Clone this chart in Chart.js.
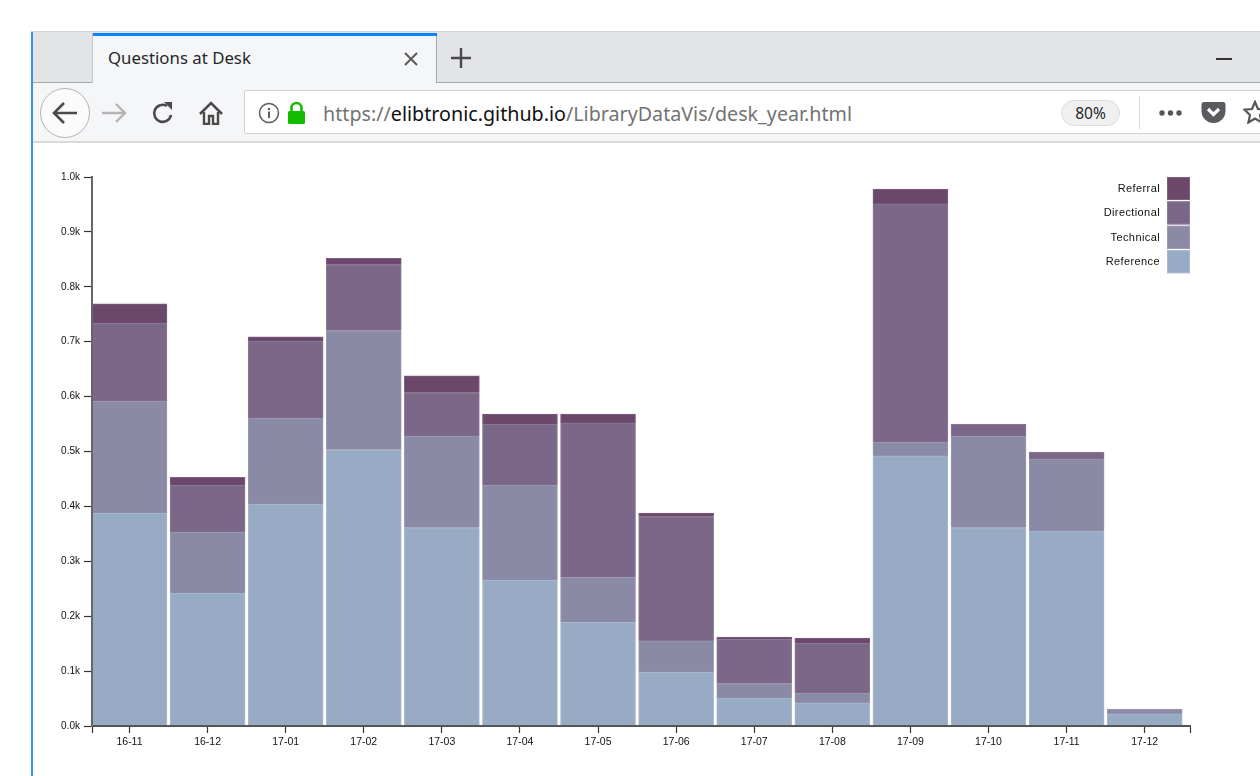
<!DOCTYPE html>
<html>
<head>
<meta charset="utf-8">
<title>Questions at Desk</title>
<script src="https://cdn.jsdelivr.net/npm/chart.js@4"></script>
<style>
html,body{margin:0;padding:0;background:#fff;overflow:hidden}
#page{position:relative;width:1260px;height:776px;overflow:hidden;font-family:"Noto Sans",sans-serif}
#page div,#page svg{position:absolute}
#chart{position:absolute;left:32px;top:143px}
.txt{white-space:nowrap}
</style>
</head>
<body>
<div id="page">
  <div style="left:31px;top:31px;width:1229px;height:1px;background:#d4d4d4"></div>
  <div style="left:31px;top:32px;width:2px;height:744px;background:#3d94e6"></div>
  <div style="left:33px;top:32px;width:1227px;height:51px;background:#e3e4e6"></div>
  <div style="left:33px;top:82px;width:1227px;height:1px;background:#a8a9ab"></div>
  <div style="left:93px;top:33px;width:343px;height:50px;background:#f5f6f7;border-right:1px solid #a8a9ab"></div>
  <div style="left:92px;top:33px;width:1px;height:50px;background:#c4c5c7"></div>
  <div style="left:93px;top:33px;width:344px;height:3px;background:#0a84ff"></div>
  <div class="txt" style="left:108px;top:46px;font-size:16.8px;line-height:24px;color:#26262a">Questions at Desk</div>
  <svg style="left:403px;top:51px" width="16" height="16"><path d="M2 2L14 14M14 2L2 14" stroke="#5a5a5c" stroke-width="2"/></svg>
  <svg style="left:449px;top:46px" width="24" height="24"><path d="M12 2V22M2 12H22" stroke="#4a4a4c" stroke-width="2.4"/></svg>
  <div style="left:1216px;top:58px;width:16px;height:2px;background:#333"></div>

  <div style="left:33px;top:83px;width:1227px;height:58px;background:#f5f6f7"></div>
  <div style="left:33px;top:141px;width:1227px;height:2px;background:#d8d9da"></div>
  <div style="left:244px;top:90px;width:1231px;height:44px;background:#fff;border:1px solid #d0d1d2;border-radius:2px;box-sizing:border-box"></div>
  <div style="left:40px;top:88px;width:50px;height:50px;border-radius:50%;background:#fbfbfb;border:1px solid #b4b4b6;box-sizing:border-box"></div>
  <svg style="left:50px;top:98px" width="30" height="30"><path d="M27 15H4M14 5L4 15L14 25" fill="none" stroke="#4a4a4c" stroke-width="2.6"/></svg>
  <svg style="left:101px;top:101px" width="26" height="24"><path d="M1 12H24M15 3L24 12L15 21" fill="none" stroke="#b4b4b6" stroke-width="2.4"/></svg>
  <svg style="left:151px;top:101px" width="24" height="24"><path d="M20 14A8.5 8.5 0 1 1 16 5" fill="none" stroke="#4a4a4c" stroke-width="2.6"/><path d="M13 1H21V9Z" fill="#4a4a4c"/></svg>
  <svg style="left:199px;top:101px" width="24" height="24"><path d="M1 13L12 2L23 13" fill="none" stroke="#4a4a4c" stroke-width="2.6"/><path d="M5 11V23H10V15H14V23H19V11" fill="none" stroke="#4a4a4c" stroke-width="2.4"/></svg>
  <svg style="left:258px;top:102px" width="22" height="22"><circle cx="11" cy="11" r="9.5" fill="none" stroke="#5c5c5e" stroke-width="1.5"/><path d="M11 9.5V16M11 6V8" stroke="#5c5c5e" stroke-width="2"/></svg>
  <svg style="left:287px;top:101px" width="19" height="23"><path d="M4.5 10V7A5 5 0 0 1 14.5 7V10" fill="none" stroke="#12bc00" stroke-width="2.6"/><rect x="1" y="10" width="17" height="13" rx="1.5" fill="#12bc00"/></svg>
  <div class="txt" style="left:323px;top:100px;font-size:19.7px;line-height:28px;color:#737373">https://<span style="color:#111">elibtronic.github.io</span>/LibraryDataVis/desk_year.html</div>
  <div class="txt" style="left:1061px;top:100px;width:59px;height:26px;border-radius:13px;background:#f0f0f1;border:1px solid #dcdcde;box-sizing:border-box;text-align:center;font-size:15.5px;line-height:25px;color:#26262a">80%</div>
  <div style="left:1139px;top:96px;width:1px;height:33px;background:#dcdcde"></div>
  <svg style="left:1158px;top:107px" width="26" height="12"><circle cx="4" cy="6" r="2.7" fill="#55555a"/><circle cx="12.5" cy="6" r="2.7" fill="#55555a"/><circle cx="21" cy="6" r="2.7" fill="#55555a"/></svg>
  <svg style="left:1201px;top:101px" width="25" height="23"><path d="M3 1H22Q24.5 1 24.5 4V10A12 12 0 0 1 0.5 10V4Q0.5 1 3 1Z" fill="#5b5b5f"/><path d="M7 8L12.5 13.5L18 8" fill="none" stroke="#fff" stroke-width="3.2"/></svg>
  <svg style="left:1243px;top:100px" width="24" height="24"><path d="M12 2L15 9L22.5 9.7L17 15L18.6 22.5L12 18.6L5.4 22.5L7 15L1.5 9.7L9 9Z" fill="none" stroke="#55555a" stroke-width="2.2"/></svg>

  <canvas id="chart" width="1228" height="633"></canvas>
</div>
<script>
var categories = ["16-11","16-12","17-01","17-02","17-03","17-04","17-05","17-06","17-07","17-08","17-09","17-10","17-11","17-12"];
var reference   = [388,242,404,503,361,266,189,98,51,42,492,361,355,22];
var technical   = [204,111,157,217,167,173,82,57,26,18,25,167,131,9];
var directional = [142,86,140,120,79,111,281,226,81,91,434,22,13,0];
var referral    = [35,14,8,12,31,18,16,7,4,9,27,0,0,0];
var yTicks = { min: 0, max: 1000, step: 100 };
// the axis runs a little past the bands on both sides, the right more than the left
var xRange = { min: -0.48, max: 13.58 };

function points(values) {
  return values.map(function(v, i) { return { x: i, y: v }; });
}

function series(label, values, color, edge) {
  return {
    label: label,
    data: points(values),
    backgroundColor: color,
    borderColor: edge,
    borderWidth: 1,
    barThickness: 75,
  };
}

// legend sits inside the plot with the swatch right of the label, newest series on top
var stackLegend = {
  id: "stackLegend",
  afterDraw: function(chart) {
    var ctx = chart.ctx;
    var area = chart.chartArea;
    var sets = chart.data.datasets;
    ctx.save();
    ctx.font = "11px 'Liberation Sans'";
    ctx.letterSpacing = "0.4px";
    ctx.textAlign = "right";
    ctx.textBaseline = "middle";
    for (var i = sets.length - 1, row = 0; i >= 0; i--, row++) {
      var top = area.top + row * 24.4;
      ctx.fillStyle = sets[i].backgroundColor;
      ctx.fillRect(area.right - 23, top, 23, 23);
      ctx.strokeStyle = sets[i].borderColor;
      ctx.strokeRect(area.right - 22.5, top + 0.5, 22, 22);
      ctx.fillStyle = "#111";
      ctx.fillText(sets[i].label, area.right - 30, top + 12);
    }
    ctx.restore();
  },
};

new Chart(document.getElementById("chart").getContext("2d"), {
  type: "bar",
  plugins: [stackLegend],
  data: {
    datasets: [
      series("Reference", reference, "#98abc5", "#a9b8ce"),
      series("Technical", technical, "#8a89a6", "#9b9ab3"),
      series("Directional", directional, "#7b6888", "#8c7b98"),
      series("Referral", referral, "#6b486b", "#7e607e"),
    ],
  },
  options: {
    responsive: false,
    animation: false,
    layout: { padding: { top: 34, right: 70, left: 0, bottom: 0 } },
    plugins: {
      tooltip: { enabled: false },
      legend: { display: false },
    },
    scales: {
      x: {
        type: "linear",
        stacked: true,
        offset: false,
        min: xRange.min,
        max: xRange.max,
        afterFit: function(scale) { scale.height = 50; },
        afterBuildTicks: function(scale) {
          var ticks = categories.map(function(c, i) { return { value: i }; });
          scale.ticks = [{ value: xRange.min }].concat(ticks, [{ value: xRange.max }]);
        },
        border: { color: "#555", width: 2, z: 1 },
        grid: { offset: false, drawOnChartArea: false, tickLength: 7, tickColor: "#333", tickWidth: 1.2 },
        ticks: {
          autoSkip: false,
          maxRotation: 0,
          padding: 3,
          color: "#111",
          font: { family: "Liberation Sans", size: 10.5 },
          callback: function(v) { return categories[v] || ""; },
        },
      },
      y: {
        stacked: true,
        min: yTicks.min,
        max: yTicks.max,
        afterFit: function(scale) { scale.width = 60; },
        border: { color: "#666", width: 2, z: 1 },
        grid: { drawOnChartArea: false, tickLength: 8, tickColor: "#333", tickWidth: 1.2 },
        ticks: {
          stepSize: yTicks.step,
          padding: 4,
          color: "#111",
          font: { family: "Liberation Sans", size: 10 },
          callback: function(v) { return (v / 1000).toFixed(1) + "k"; },
        },
      },
    },
  },
});
</script>
</body>
</html>
